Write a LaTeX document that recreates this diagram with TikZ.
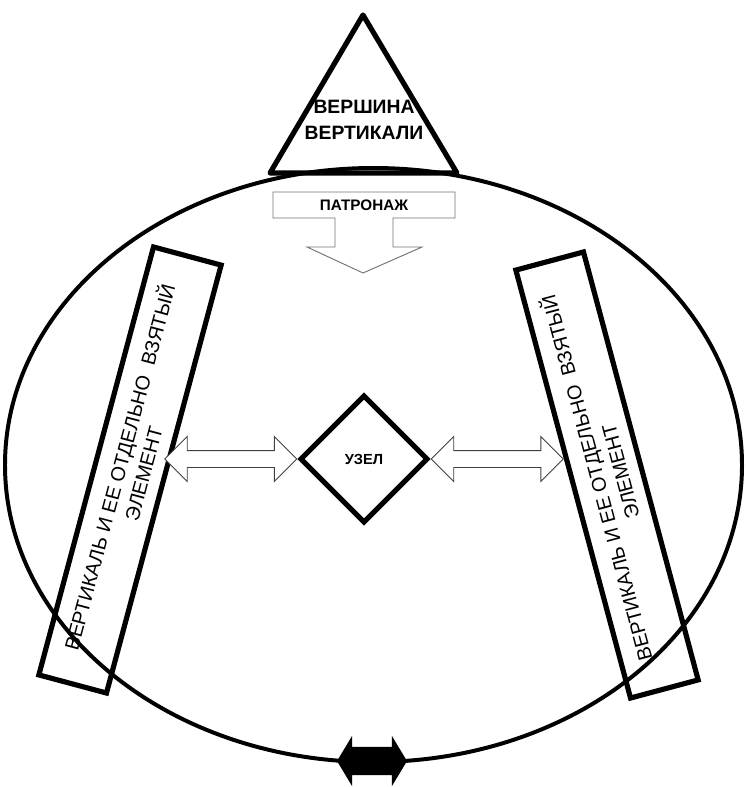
\documentclass[tikz,border=0pt]{standalone}
\usepackage{fontspec}
\setmainfont{Liberation Sans}
\usetikzlibrary{shapes.geometric,shapes.arrows}
\tikzset{
	rim/.style={line width=3.4pt},
	heavy/.style={line width=4.4pt},
	vbox/.style={draw, line width=4.4pt, minimum width=13.29cm, minimum height=2.1cm, inner sep=0pt, align=center, font=\fontsize{17}{21}\selectfont},
	knotbox/.style={diamond, draw, line width=4.4pt, aspect=1, minimum size=3.84cm, inner sep=0pt, font=\bfseries\fontsize{12.5}{14}\selectfont},
	fatarrow/.style={double arrow, draw=black!75, line width=0.8pt, fill=white, inner sep=0pt, text height=0.24cm, text depth=0.24cm, double arrow head extend=0.42cm, minimum height=3.96cm},
	linkarrow/.style={double arrow, fill=black, inner sep=0pt, text height=0.42cm, text depth=0.42cm, double arrow head extend=0.33cm, double arrow tip angle=118, minimum height=2.1cm}
}
\begin{document}
\begin{tikzpicture}[x=0.03cm, y=-0.03cm]
		\useasboundingbox (0,0) rectangle (745,787);
		\draw[rim] (373.5,465) ellipse [x radius=368.5, y radius=297];
		\draw[heavy, line join=round] (363,15) -- (270,173) -- (457,173) -- cycle;
		\node[font=\bfseries\fontsize{16.5}{22}\selectfont, align=center] (apex) at (364,120) {ВЕРШИНА\\ВЕРТИКАЛИ};
		\draw[draw=black!55, line width=0.8pt, fill=white] (273,192) -- (455,192) -- (455,218) -- (393,218) -- (393,247) -- (422,247) -- (363,273) -- (307,247) -- (335,247) -- (335,218) -- (273,218) -- cycle;
		\node[font=\bfseries\fontsize{13}{15}\selectfont] (patron) at (364,205) {ПАТРОНАЖ};
		\node[vbox, rotate=75] (lbox) at (130,470) {ВЕРТИКАЛЬ И ЕЕ ОТДЕЛЬНО\ \ ВЗЯТЫЙ\\ЭЛЕМЕНТ};
		\node[vbox, rotate=105] (rbox) at (607,475) {ВЕРТИКАЛЬ И ЕЕ ОТДЕЛЬНО\ \ ВЗЯТЫЙ\\ЭЛЕМЕНТ};
		\node[knotbox] (knot) at (364,459) {УЗЕЛ};
		\node[fatarrow, anchor=tip 1] (larrow) at (knot.west) {};
		\node[fatarrow, anchor=tip 2] (rarrow) at (knot.east) {};
		\node[linkarrow] (link) at (372,761) {};
\end{tikzpicture}
\end{document}
